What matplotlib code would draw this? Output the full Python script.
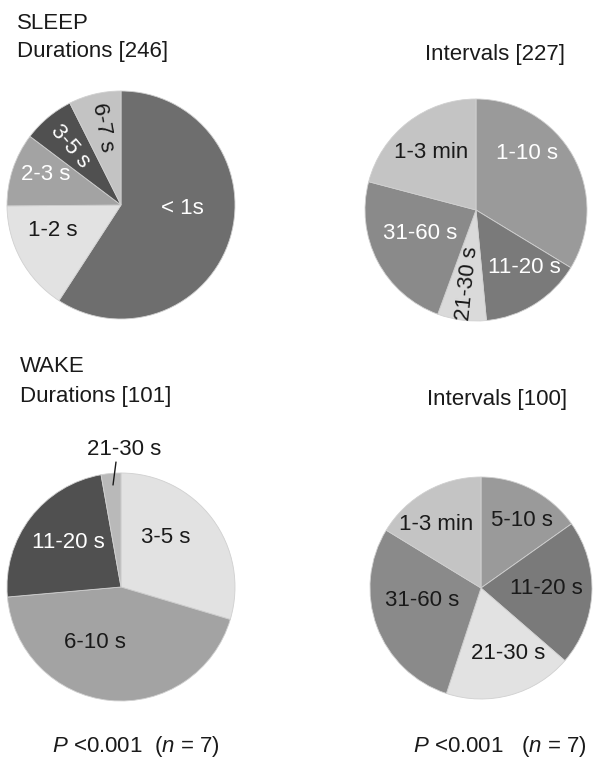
import matplotlib
matplotlib.use('Agg')
import matplotlib.pyplot as plt

plt.rcParams['font.family'] = ['Liberation Sans', 'DejaVu Sans']
plt.rcParams['mathtext.fontset'] = 'custom'
plt.rcParams['mathtext.rm'] = 'Liberation Sans'
plt.rcParams['mathtext.it'] = 'Liberation Sans:italic'

# percentages (clockwise from 12 o'clock)
sleep_dur_labels = ['< 1s', '1-2 s', '2-3 s', '3-5 s', '6-7 s']
sleep_dur_values = [59.1, 15.7, 10.4, 7.3, 7.4]
sleep_dur_colors = ['#6e6e6e', '#e2e2e2', '#a3a3a3', '#505050', '#c3c3c3']

sleep_int_labels = ['1-10 s', '11-20 s', '21-30 s', '31-60 s', '1-3 min']
sleep_int_values = [33.7, 14.8, 7.1, 23.5, 20.9]
sleep_int_colors = ['#9a9a9a', '#7a7a7a', '#dadada', '#8a8a8a', '#c4c4c4']

wake_dur_labels = ['3-5 s', '6-10 s', '11-20 s', '21-30 s']
wake_dur_values = [29.6, 44.0, 23.6, 2.8]
wake_dur_colors = ['#e2e2e2', '#a3a3a3', '#505050', '#b9b9b9']

wake_int_labels = ['5-10 s', '11-20 s', '21-30 s', '31-60 s', '1-3 min']
wake_int_values = [15.2, 21.2, 18.7, 28.7, 16.3]
wake_int_colors = ['#9a9a9a', '#7a7a7a', '#e2e2e2', '#8a8a8a', '#c4c4c4']

W, H = 595, 760
fig = plt.figure(figsize=(W / 100, H / 100), dpi=100)
FS = 16
DARK = '#1a1a1a'


def pie_axes(cx, cy, r):
    ax = fig.add_axes([(cx - r) / W, 1 - (cy + r) / H, 2 * r / W, 2 * r / H])
    ax.set_xlim(-1, 1)
    ax.set_ylim(-1, 1)
    ax.set_aspect('equal')
    ax.axis('off')
    return ax


def draw_pie(ax, values, colors):
    ax.pie(values, colors=colors, startangle=90, counterclock=False,
           radius=1, wedgeprops=dict(linewidth=0.6, edgecolor='#d0d0d0'))
    ax.set_xlim(-1, 1)
    ax.set_ylim(-1, 1)


def lab(ax, x, y, s, color=DARK, rot=0):
    ax.text(x, y, s, fontsize=FS, color=color, ha='center', va='center',
            rotation=rot, rotation_mode='anchor')


def ftext(x, y, s, ha='left'):
    fig.text(x / W, 1 - y / H, s, fontsize=FS, color=DARK, ha=ha, va='baseline')


# SLEEP durations
ax1 = pie_axes(121, 205, 114)
draw_pie(ax1, sleep_dur_values, sleep_dur_colors)
lab(ax1, 0.54, -0.03, sleep_dur_labels[0], 'white')
lab(ax1, -0.60, -0.22, sleep_dur_labels[1])
lab(ax1, -0.66, 0.27, sleep_dur_labels[2], 'white')
lab(ax1, -0.45, 0.51, sleep_dur_labels[3], 'white', rot=-50)
lab(ax1, -0.16, 0.68, sleep_dur_labels[4], rot=-80)

# SLEEP intervals
ax2 = pie_axes(476, 210, 111)
draw_pie(ax2, sleep_int_values, sleep_int_colors)
lab(ax2, 0.46, 0.51, sleep_int_labels[0], 'white')
lab(ax2, 0.44, -0.52, sleep_int_labels[1], 'white')
lab(ax2, -0.08, -0.66, sleep_int_labels[2], rot=84)
lab(ax2, -0.50, -0.21, sleep_int_labels[3], 'white')
lab(ax2, -0.40, 0.52, sleep_int_labels[4])

# WAKE durations
ax3 = pie_axes(121, 587, 114)
draw_pie(ax3, wake_dur_values, wake_dur_colors)
lab(ax3, 0.39, 0.43, wake_dur_labels[0])
lab(ax3, -0.23, -0.49, wake_dur_labels[1])
lab(ax3, -0.46, 0.39, wake_dur_labels[2], 'white')
lab(ax3, 0.03, 1.21, wake_dur_labels[3])
ax3.annotate('', xy=(-0.07, 0.895), xytext=(-0.044, 1.096),
             annotation_clip=False,
             arrowprops=dict(arrowstyle='-', color=DARK, lw=1.0,
                             shrinkA=0, shrinkB=0))

# WAKE intervals
ax4 = pie_axes(481, 588, 111)
draw_pie(ax4, wake_int_values, wake_int_colors)
lab(ax4, 0.37, 0.61, wake_int_labels[0])
lab(ax4, 0.59, 0.0, wake_int_labels[1])
lab(ax4, 0.24, -0.59, wake_int_labels[2])
lab(ax4, -0.53, -0.11, wake_int_labels[3])
lab(ax4, -0.40, 0.57, wake_int_labels[4])

# headings
ftext(17, 29, 'SLEEP')
ftext(17, 57, 'Durations [246]')
ftext(565, 60, 'Intervals [227]', ha='right')
ftext(20, 372, 'WAKE')
ftext(20, 402, 'Durations [101]')
ftext(567, 405, 'Intervals [100]', ha='right')
ftext(52, 752, r'$P$ <0.001  ($n$ = 7)')
ftext(413, 752, r'$P$ <0.001   ($n$ = 7)')

fig.savefig('out.png', dpi=100)
